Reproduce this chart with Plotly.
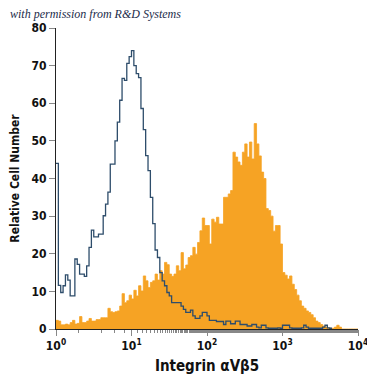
import numpy as np
import plotly.graph_objects as go

# Histogram channels: 32 bins per decade over 4 decades (10^0 .. 10^4)
bins_per_decade = 32
n_decades = 4

# Isotype control (blue outline) counts per channel
isotype_counts = [
    44, 11.6, 9.7, 11.5, 14.4, 13, 8.8, 8.8, 18.6, 17.2,
    14.6, 14.6, 14, 16.8, 21.7, 26.3, 24.5, 24.5, 25.2, 25.2,
    30.1, 33.2, 36.4, 43.8, 43.8, 50, 55, 60.8, 66.6, 66.1,
    70.6, 72.4, 74.0, 70, 67.9, 66.8, 58.6, 53.0, 46.1, 42.1,
    35, 28, 21, 19, 15, 12.8, 11.5, 9.7, 8.8, 7.0,
    7.0, 7.0, 7.0, 6.1, 5.2, 4.4, 4.4, 5.0, 3.5, 2.8,
    2.8, 3.5, 4.4, 4.4, 3.5, 2.3, 2.3, 2.3, 2.0, 2.0,
    2.0, 1.2, 2.1, 2.1, 1.4, 1.4, 2.1, 2.1, 1.2, 1.2,
    1.2, 0.8, 0.8, 1.2, 1.2, 0.5, 0.3, 1.0, 1.0, 0.3,
    0.2, 0.2, 0.2, 0.2, 0.3, 0.2, 1.0, 1.0, 1.0, 0.3,
    0.2, 0.2, 0.2, 0.2, 0.3, 1.0, 0.5, 0.2, 0.2, 0.2,
    0.2, 0.2, 0.2, 0.5, 1.0, 0.3, 0.2,
]

# Integrin aVb5 stained (orange filled) counts per channel
integrin_counts = [
    2.3, 2.1, 1.1, 1.1, 1.3, 1.1, 1.7, 2.3, 1.3, 1.5,
    3.3, 1.7, 1.7, 2.1, 2.8, 2.1, 2.1, 2.5, 2.5, 3.0,
    3.0, 3.0, 5.5, 4.6, 4.4, 4.6, 4.8, 6.1, 9.4, 7.0,
    7.5, 9.0, 8.0, 10.3, 8.8, 11.5, 10.1, 14.1, 12.8, 11.0,
    12.4, 12.8, 14.6, 13.0, 15.5, 14.6, 17.7, 17.1, 14.6, 14.0,
    14.6, 16.8, 15.5, 20.3, 16.0, 17, 19, 19.5, 21.7, 19.9,
    23, 26.1, 29.5, 27.5, 27.5, 22.6, 29.2, 28.4, 29.7, 27.9,
    27.9, 35, 35, 35.9, 36.8, 47, 45.7, 44.4, 43.5, 47,
    49.2, 45.7, 49.7, 45.2, 54.6, 49.2, 46, 41.7, 40, 32,
    31.5, 30, 26, 27.5, 27.5, 22.6, 15, 14.3, 13.3, 14.1,
    11.9, 10.5, 9.0, 7.5, 6.1, 5.5, 4.8, 4.4, 3.8, 3.0,
    2.1, 1.7, 1.2, 0.8, 0.5, 0.3, 0.2, 0.2, 0.5, 1.0,
    0.5, 0, 0, 0, 0, 0, 0, 0,
]

y_ticks = [0, 10, 20, 30, 40, 50, 60, 70, 80]
x_tickvals = [1, 10, 100, 1000, 10000]
x_ticktext = ["10<sup>0</sup>", "10<sup>1</sup>", "10<sup>2</sup>",
              "10<sup>3</sup>", "10<sup>4</sup>"]

edges = 10 ** (np.arange(bins_per_decade * n_decades + 1) / bins_per_decade)


def step(vals):
    x = list(edges[: len(vals) + 1])
    y = list(vals) + [vals[-1]]
    return x, y


ox, oy = step(integrin_counts)
bx, by = step(isotype_counts)

fig = go.Figure()
fig.add_trace(go.Scatter(
    x=ox, y=oy, mode="lines", line=dict(shape="hv", color="#F6A324", width=0.8),
    fill="tozeroy", fillcolor="#F6A324", hoverinfo="skip", showlegend=False,
))
fig.add_trace(go.Scatter(
    x=bx, y=by, mode="lines", line=dict(shape="hv", color="#2E4D6B", width=1.3),
    hoverinfo="skip", showlegend=False,
))

fam = "DejaVu Sans Condensed, Liberation Sans Narrow, Arial Narrow, sans-serif"
tick_font = dict(family=fam, size=12, color="#111", weight="bold")
title_font = dict(family=fam, size=15, color="#111", weight="bold")

# page body has an 8px margin, so the figure is sized/offset to compensate
fig.update_layout(
    width=367, height=367,
    margin=dict(l=48, r=17, t=20, b=46),
    paper_bgcolor="white", plot_bgcolor="white",
    xaxis=dict(
        type="log", range=[0, 4], automargin=False,
        tickvals=x_tickvals, ticktext=x_ticktext, ticklabeloverflow="allow",
        ticks="outside", ticklen=6, tickcolor="#888", tickwidth=1,
        minor=dict(ticks="outside", ticklen=3, tickcolor="#888", tickwidth=1, showgrid=False),
        showgrid=False, zeroline=False,
        showline=True, linecolor="#222", linewidth=1,
        tickfont=tick_font,
        title=dict(text="Integrin αVβ5", font=title_font),
    ),
    yaxis=dict(
        range=[0, 80], tickvals=y_ticks, automargin=False,
        ticks="outside", ticklen=6, tickcolor="#888", tickwidth=1,
        showgrid=False, zeroline=False,
        showline=True, linecolor="#222", linewidth=1,
        tickfont=tick_font,
        title=dict(text="Relative Cell Number", font=dict(title_font, size=12)),
    ),
    annotations=[dict(
        text="<i>with permission from R&amp;D Systems</i>",
        xref="paper", yref="paper", x=-0.158, y=1.048, xanchor="left", yanchor="middle",
        showarrow=False,
        font=dict(family="Liberation Serif, DejaVu Serif, serif", size=12, color="#1c2b4a"),
    )],
)

fig.write_html("out.html")
